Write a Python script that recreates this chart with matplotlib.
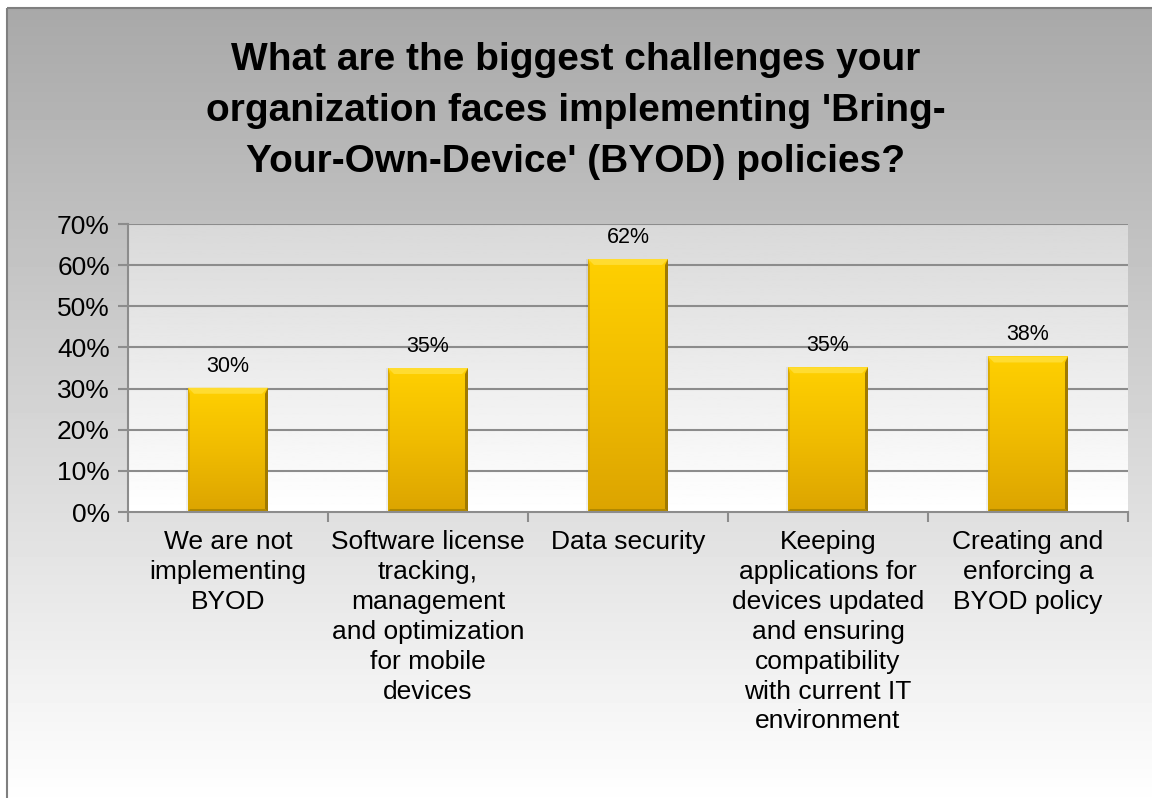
import numpy as np
import matplotlib.pyplot as plt
from matplotlib.patches import Rectangle, Polygon
from matplotlib.colors import LinearSegmentedColormap

plt.rcParams['font.family'] = ['Liberation Sans', 'DejaVu Sans']

title = ("What are the biggest challenges your\n"
         "organization faces implementing 'Bring-\n"
         "Your-Own-Device' (BYOD) policies?")
categories = [
    "We are not\nimplementing\nBYOD",
    "Software license\ntracking,\nmanagement\nand optimization\nfor mobile\ndevices",
    "Data security",
    "Keeping\napplications for\ndevices updated\nand ensuring\ncompatibility\nwith current IT\nenvironment",
    "Creating and\nenforcing a\nBYOD policy",
]
values = [0.302, 0.35, 0.615, 0.352, 0.378]
yticks = [0, 0.1, 0.2, 0.3, 0.4, 0.5, 0.6, 0.7]

fig = plt.figure(figsize=(11.52, 7.98), dpi=100)

# background panel with vertical gray gradient and border
bg = fig.add_axes([0, 0, 1, 1], zorder=-10)
bg.axis('off')
grad = np.linspace(0.66, 1.0, 256).reshape(-1, 1)
bg.imshow(grad, cmap='gray', vmin=0, vmax=1, extent=[7, 1160, 806, 8], aspect='auto')
bg.add_patch(Rectangle((7, 8), 1160, 800, fill=False, edgecolor='#7f7f7f', lw=1.5))
bg.set_xlim(0, 1152)
bg.set_ylim(798, 0)

ax = fig.add_axes([128 / 1152, 1 - 512 / 798, 1000 / 1152, 288 / 798])
x = np.arange(len(categories))

# plot area gradient, light gray at the top fading to white
pgrad = np.linspace(1.0, 0.85, 256).reshape(-1, 1)
ax.imshow(pgrad, cmap='gray', vmin=0, vmax=1, extent=[-0.5, 4.5, 0, 0.7],
          aspect='auto', zorder=0, origin='lower')
ax.set_xlim(-0.5, len(categories) - 0.5)
ax.set_ylim(0, 0.7)

for t in yticks[1:]:
    ax.axhline(t, color='#8c8c8c', lw=1.5, zorder=1)

gold = LinearSegmentedColormap.from_list('gold', ['#dca400', '#f0bc00', '#ffd000'])
bw = 0.4
bars = ax.bar(x, values, width=bw, color='none', edgecolor='none', zorder=2)
bx = 0.03
by = 0.0146
for b, v in zip(bars, values):
    x0 = b.get_x()
    x1 = x0 + bw
    # soft shadow on the left side
    ax.add_patch(Rectangle((x0 - 0.012, 0), 0.012, v, facecolor='#000000', alpha=0.06,
                           edgecolor='none', zorder=2))
    im = ax.imshow(np.linspace(0, 1, 256).reshape(-1, 1), cmap=gold, origin='lower',
                   extent=[x0, x1, 0, v], aspect='auto', zorder=2)
    im.set_clip_path(b)
    # bevel edges
    ax.add_patch(Polygon([(x0, v), (x1, v), (x1 - bx, v - by), (x0 + bx, v - by)],
                         closed=True, facecolor='#ffdc30', edgecolor='none', zorder=3))
    ax.add_patch(Polygon([(x1, v), (x1, 0), (x1 - bx * 0.5, by * 0.5), (x1 - bx * 0.5, v - by)],
                         closed=True, facecolor='#a07a00', edgecolor='none', zorder=3))
    ax.add_patch(Polygon([(x0, v), (x0, 0), (x0 + bx * 0.3, by * 0.3), (x0 + bx * 0.3, v - by)],
                         closed=True, facecolor='#d8a800', edgecolor='none', zorder=3))
    ax.add_patch(Polygon([(x0, 0), (x1, 0), (x1 - bx * 0.5, by * 0.5), (x0 + bx * 0.3, by * 0.5)],
                         closed=True, facecolor='#b08800', edgecolor='none', zorder=3))
    ax.annotate(f"{v:.0%}", (b.get_x() + bw / 2, v), xytext=(0, 8), textcoords='offset points',
                ha='center', va='bottom', fontsize=15.5, color='#000000', zorder=4)

ax.set_yticks(yticks)
ax.set_yticklabels([f"{t:.0%}" for t in yticks], fontsize=19)
ax.set_xticks(x)
ax.set_xticklabels(categories, fontsize=19, linespacing=1.31, va='top')
ax.set_xticks(np.arange(-0.5, len(categories)), minor=True)
ax.tick_params(axis='x', which='major', length=0, pad=13)
ax.tick_params(axis='x', which='minor', length=7, color='#8c8c8c', width=1.5, direction='out')
ax.tick_params(axis='y', length=7, color='#8c8c8c', width=1.5, direction='out', pad=6)

for s in ['top', 'right']:
    ax.spines[s].set_visible(False)
for s in ['left', 'bottom']:
    ax.spines[s].set_color('#8c8c8c')
    ax.spines[s].set_linewidth(1.5)
    ax.spines[s].set_zorder(5)

fig.text(0.5, 1 - 111 / 798, title, ha='center', va='center', fontsize=28,
         fontweight='bold', linespacing=1.52)

fig.savefig('out.png', dpi=100)
